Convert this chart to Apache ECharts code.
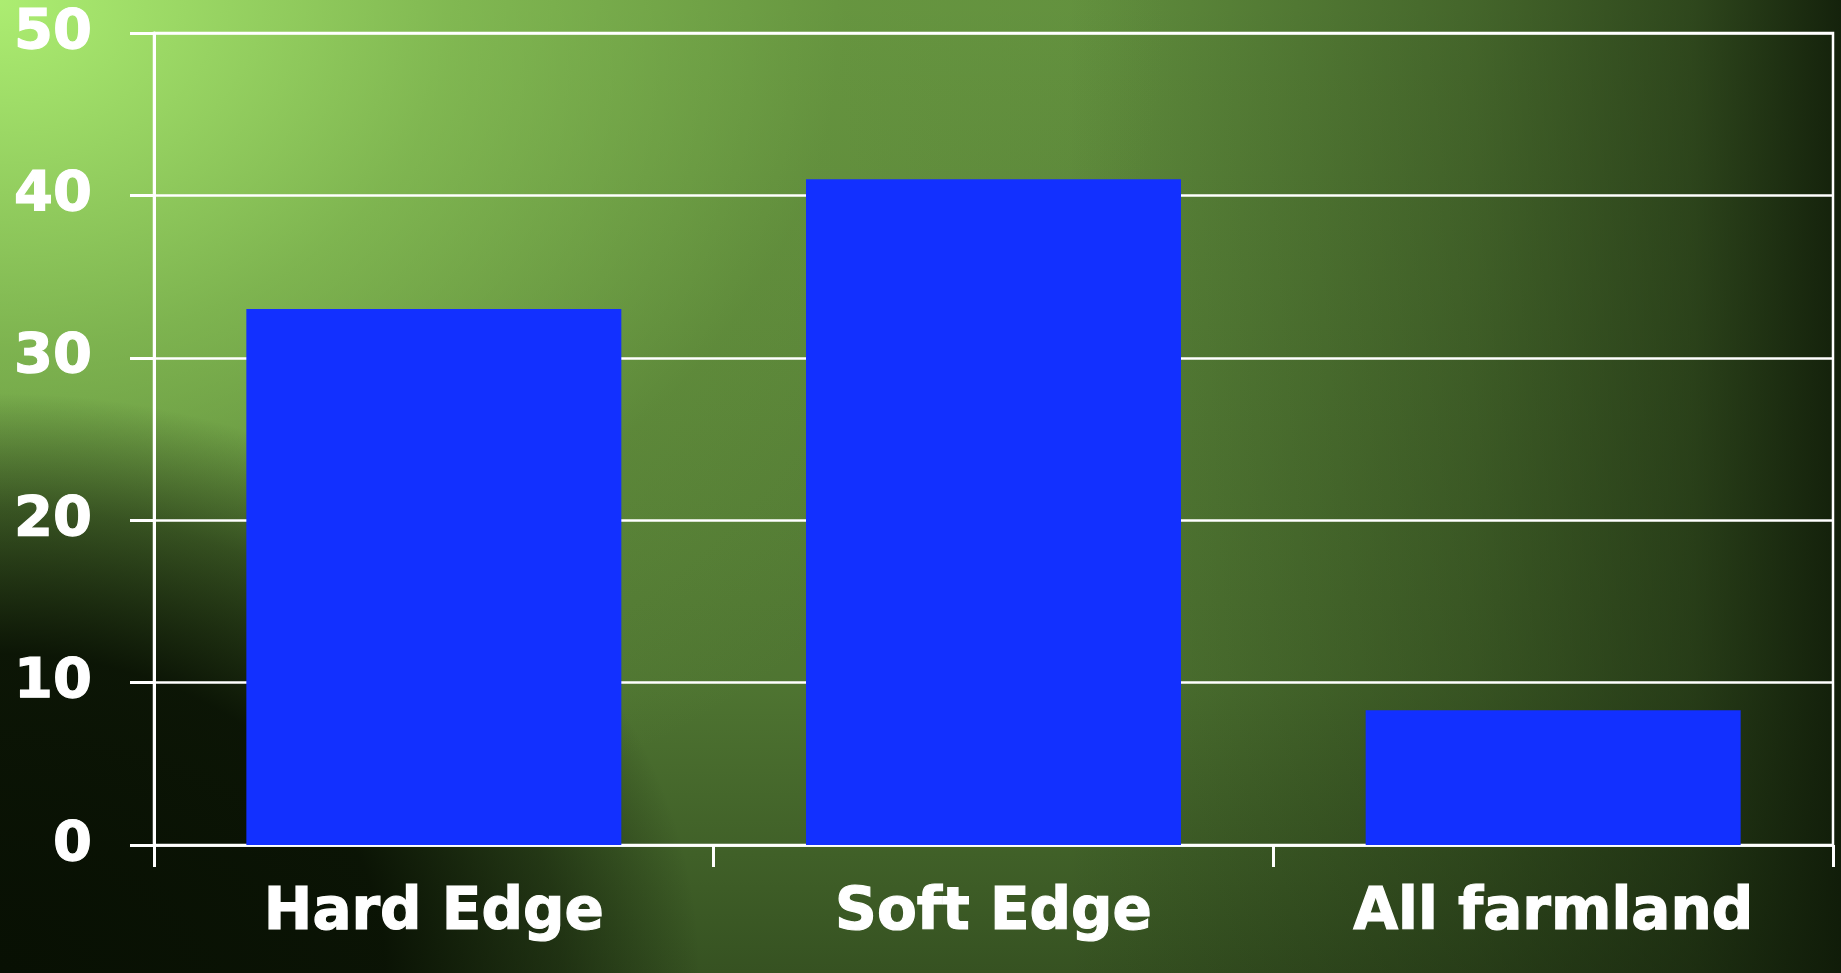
<!DOCTYPE html>
<html>
<head>
<meta charset="utf-8">
<script src="https://cdn.jsdelivr.net/npm/echarts@6/dist/echarts.min.js"></script>
<style>
  html, body { margin: 0; padding: 0; width: 1841px; height: 973px; overflow: hidden; }
  #chart {
    width: 1841px; height: 973px;
    background:
      radial-gradient(ellipse 700px 580px at 0px 973px, rgba(8,16,3,1) 0%, rgba(8,16,3,0.95) 55%, rgba(8,16,3,0.5) 80%, rgba(8,16,3,0) 100%),
      radial-gradient(ellipse 1300px 1000px at 0px 0px, rgba(176,242,116,0.95) 0%, rgba(145,205,92,0.65) 35%, rgba(120,170,70,0.2) 65%, rgba(120,170,70,0) 90%),
      linear-gradient(to right, rgba(12,22,6,0) 0%, rgba(12,22,6,0) 58%, rgba(12,22,6,0.35) 80%, rgba(12,22,6,0.6) 92%, rgba(12,22,6,0.9) 100%),
      linear-gradient(to bottom, rgba(10,20,5,0) 0%, rgba(10,20,5,0.22) 70%, rgba(10,20,5,0.5) 100%),
      #62903e;
  }
</style>
</head>
<body>
<div id="chart"></div>
<script>
const categories = ['Hard Edge', 'Soft Edge', 'All farmland'];
const values = [33, 41, 8.3];
const yTicks = [0, 10, 20, 30, 40, 50];

const chart = echarts.init(document.getElementById('chart'), null, { renderer: 'canvas' });
const white = '#ffffff';
const baseFont = { color: white, fontWeight: 'bold', fontFamily: 'DejaVu Sans', textBorderColor: white, textBorderWidth: 1.2 };

chart.setOption({
  backgroundColor: 'transparent',
  animation: false,
  grid: { left: 154, right: 8, top: 33, bottom: 128, show: true, borderColor: white, borderWidth: 2.5, backgroundColor: 'transparent' },
  xAxis: {
    type: 'category',
    data: categories,
    axisLine: { show: true, lineStyle: { color: white, width: 2.5 } },
    axisTick: { show: true, length: 22, lineStyle: { color: white, width: 3 } },
    axisLabel: Object.assign({ margin: 40, interval: 0, fontSize: 58 }, baseFont),
    splitLine: { show: false }
  },
  yAxis: {
    type: 'value',
    min: yTicks[0],
    max: yTicks[yTicks.length - 1],
    interval: yTicks[1] - yTicks[0],
    axisLine: { show: true, lineStyle: { color: white, width: 3 } },
    axisTick: { show: true, length: 24, lineStyle: { color: white, width: 3 } },
    axisLabel: Object.assign({ margin: 62, fontSize: 56 }, baseFont),
    splitLine: { show: true, lineStyle: { color: white, width: 2.5 } }
  },
  series: [{
    type: 'bar',
    data: values,
    barWidth: '67%',
    itemStyle: { color: '#1230ff' }
  }]
});
</script>
</body>
</html>
